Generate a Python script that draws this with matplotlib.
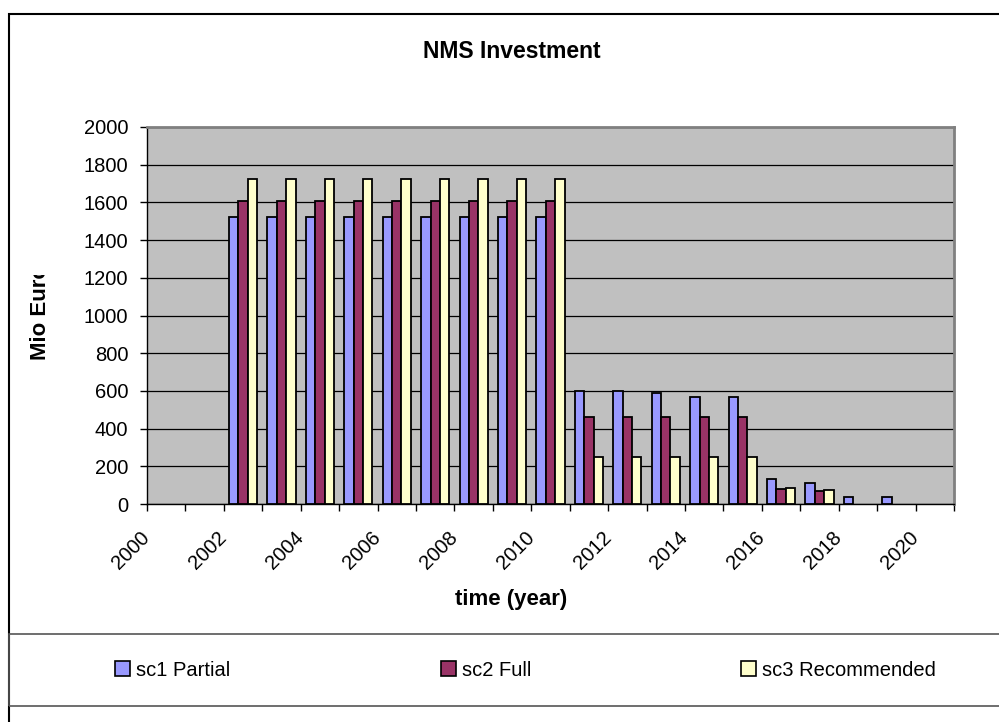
"""NMS Investment bar chart (Excel-style grouped bars, three scenarios)."""
import numpy as np
import matplotlib
matplotlib.use("Agg")
import matplotlib.pyplot as plt
from matplotlib.patches import Rectangle, Patch
from matplotlib.transforms import Bbox

plt.rcParams["font.family"] = ["Liberation Sans", "DejaVu Sans"]

# data
years = list(range(2000, 2021))
sc1_partial = [0, 0, 1525, 1525, 1525, 1525, 1525, 1525, 1525, 1525, 1525,
               600, 600, 590, 565, 565, 133, 112, 38, 38, 0]
sc2_full = [0, 0, 1610, 1610, 1610, 1610, 1610, 1610, 1610, 1610, 1610,
            461, 461, 461, 461, 461, 82, 70, 0, 0, 0]
sc3_recommended = [0, 0, 1723, 1723, 1723, 1723, 1723, 1723, 1723, 1723, 1723,
                   251, 251, 251, 251, 251, 83, 72, 0, 0, 0]
series_names = ["sc1 Partial", "sc2 Full", "sc3 Recommended"]
series_colors = ["#9999FF", "#993366", "#FFFFCC"]

W, H = 999, 722
fig = plt.figure(figsize=(W / 100, H / 100), dpi=100)


def fx(px):
    return px / W


def fy(py):
    return 1 - py / H


# chart border + legend box (Excel chart area)
fig.add_artist(Rectangle((fx(9), fy(900)), 2.0, fy(14) - fy(900),
                         transform=fig.transFigure, fill=False,
                         edgecolor="black", lw=1.5))
fig.add_artist(Rectangle((fx(9), fy(706)), 2.0, fy(634) - fy(706),
                         transform=fig.transFigure, fill=False,
                         edgecolor="#555555", lw=1.2))

ax = fig.add_axes([fx(147), fy(504), fx(954) - fx(147), fy(127) - fy(504)])
ax.set_facecolor("#C0C0C0")

x = np.arange(len(years))
bw = 0.243
for k, (vals, c) in enumerate(zip([sc1_partial, sc2_full, sc3_recommended],
                                  series_colors)):
    v = np.array(vals, dtype=float)
    v[v == 0] = np.nan  # Excel draws nothing for empty cells
    ax.bar(x + (k - 1) * bw, v, width=bw, color=c, edgecolor="black",
           linewidth=1.3, zorder=3)

ax.set_xlim(-0.5, len(years) - 0.5)
ax.set_ylim(0, 2000)
ax.set_yticks(np.arange(0, 2001, 200))
ax.yaxis.grid(True, color="black", lw=0.9, zorder=1)
ax.set_axisbelow(True)

# ticks on category boundaries, labels every second year
bounds = np.arange(-0.5, len(years))
ax.set_xticks(bounds)
ax.set_xticklabels([str(y) if (i < len(years) and y % 2 == 0) else ""
                    for i, y in enumerate(years + [0])])
for lab in ax.get_xticklabels():
    lab.set_rotation(45)
    lab.set_ha("right")
    lab.set_va("center")
    lab.set_rotation_mode("anchor")
ax.tick_params(axis="x", direction="out", length=5, width=1, pad=17,
               labelsize=14.5)
ax.tick_params(axis="y", direction="out", length=5, width=1, pad=8.5,
               labelsize=14.5)

for s in ["top", "right"]:
    ax.spines[s].set_color("#808080")
    ax.spines[s].set_linewidth(2)
for s in ["left", "bottom"]:
    ax.spines[s].set_color("black")
    ax.spines[s].set_linewidth(1)

fig.text(fx(512), fy(52), "NMS Investment", ha="center", va="center",
         fontsize=16.5, fontweight="bold")
fig.text(fx(511), fy(600), "time (year)", ha="center", va="center",
         fontsize=16, fontweight="bold")
ylab = fig.text(fx(40), fy(313), "Mio Euro", ha="center", va="center",
                rotation=90, fontsize=16, fontweight="bold")
# the reference cuts the axis title off at the top
ylab.set_clip_box(Bbox([[0, 0], [W, H - 275]]))
ylab.set_clip_on(True)

# legend items laid out like the Excel legend row
legend_x = [118, 444, 744]
for name, c, lx in zip(series_names, series_colors, legend_x):
    fig.legend(handles=[Patch(facecolor=c, edgecolor="black", lw=1.2)],
               labels=[name], loc="center left",
               bbox_to_anchor=(fx(lx - 3), fy(670)), frameon=False,
               fontsize=14.5, handlelength=0.75, handleheight=0.75,
               handletextpad=0.3, borderpad=0, borderaxespad=0)

fig.savefig("out.png", dpi=100)
